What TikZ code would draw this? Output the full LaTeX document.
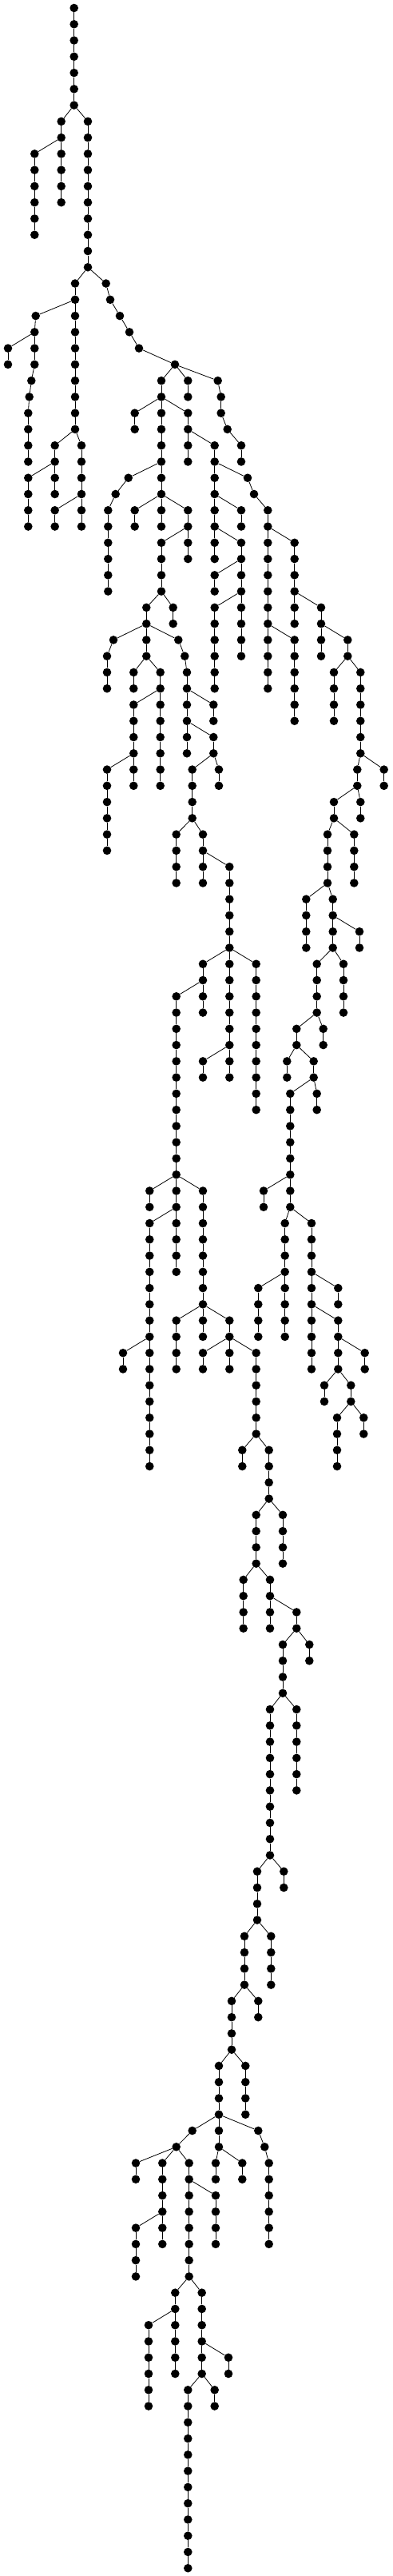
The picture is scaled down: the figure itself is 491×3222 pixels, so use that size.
\documentclass[tikz,border=0pt]{standalone}
\tikzset{dot/.style={circle,fill=black,draw=none,inner sep=0pt,minimum size=10.6pt},
  edge/.style={line width=0.8pt,black}}
\newcommand\ch[5]{%
  \foreach \l in {#4,...,#5}{\node[dot] (#1-\l) at (#3,{10+20.267*\l}) {};}%
  \draw[edge] (#2) -- (#1-#4);%
  \pgfmathtruncatemacro\chnext{#4+1}%
  \ifnum#5>#4\relax
    \foreach \l [evaluate=\l as \m using int(\l-1)] in {\chnext,...,#5}{\draw[edge] (#1-\m) -- (#1-\l);}%
  \fi}
\begin{document}
\begin{tikzpicture}[x=1pt,y=-1pt]
\useasboundingbox (0,0) rectangle (491,3222);
\node[dot] (A-0) at (92.7,10) {};
\ch{A}{A-0}{92.7}{1}{6}
\ch{B}{A-6}{76.7}{7}{8}
\ch{C}{B-8}{43.3}{9}{14}
\ch{D}{B-8}{76.7}{9}{12}
\ch{E}{A-6}{110}{7}{16}
\ch{F}{E-16}{94}{17}{18}
\ch{G1}{F-18}{44.7}{19}{19}
\ch{G2}{G1-19}{43.3}{20}{20}
\ch{H}{G2-20}{10}{21}{22}
\ch{I}{G2-20}{43.3}{21}{22}
\ch{I3}{I-22}{39.3}{23}{23}
\ch{I4}{I3-23}{36.7}{24}{24}
\ch{I5}{I4-24}{35.3}{25}{28}
\ch{J}{F-18}{94}{19}{26}
\ch{K}{J-26}{68.7}{27}{28}
\ch{L}{K-28}{35.3}{29}{32}
\ch{M}{K-28}{68.7}{29}{30}
\ch{N}{J-26}{102}{27}{30}
\ch{O}{N-30}{68.7}{31}{32}
\ch{P}{N-30}{102}{31}{32}
\ch{Q1}{E-16}{132.7}{17}{17}
\ch{Q2}{Q1-17}{138}{18}{18}
\ch{Q3}{Q2-18}{150}{19}{19}
\ch{Q4}{Q3-19}{162}{20}{20}
\ch{Q5}{Q4-20}{174}{21}{21}
\ch{Q6}{Q5-21}{219}{22}{22}
\ch{R}{Q6-22}{202}{23}{24}
\ch{S}{Q6-22}{235.3}{23}{24}
\ch{T1}{Q6-22}{272.7}{23}{23}
\ch{T2}{T1-23}{276.7}{24}{25}
\ch{T3}{T2-25}{284.7}{26}{26}
\ch{T4}{T3-26}{302}{27}{28}
\ch{U}{R-24}{168.7}{25}{26}
\ch{V}{R-24}{202}{25}{28}
\ch{W}{R-24}{235.3}{25}{26}
\ch{W1}{W-26}{235.3}{27}{28}
\ch{X}{W-26}{268.7}{27}{28}
\ch{Y1}{V-28}{160.7}{29}{29}
\ch{Y2}{Y1-29}{144.7}{30}{30}
\ch{Y3}{Y2-30}{135.3}{31}{36}
\ch{Z}{V-28}{202}{29}{30}
\ch{Z1}{Z-30}{168.7}{31}{32}
\ch{Z2}{Z-30}{202}{31}{32}
\ch{Z3}{Z-30}{235.3}{31}{32}
\ch{Z4}{Z3-32}{202}{33}{36}
\ch{Z5}{Z3-32}{235.3}{33}{34}
\ch{Z6}{Z4-36}{183.3}{37}{38}
\ch{Z7}{Z4-36}{216.7}{37}{38}
\ch{ma1}{Z6-38}{142}{39}{39}
\ch{ma2}{ma1-39}{134}{40}{42}
\ch{mb1}{Z6-38}{183.3}{39}{40}
\ch{mc1}{Z6-38}{223.3}{39}{39}
\ch{mc2}{mc1-39}{231.3}{40}{40}
\ch{mc3}{mc2-40}{234}{41}{42}
\ch{md}{mb1-40}{167.3}{41}{42}
\ch{me}{mb1-40}{200.7}{41}{42}
\ch{mf}{me-42}{167.3}{43}{46}
\ch{mg}{me-42}{200.7}{43}{48}
\ch{mh}{mf-46}{134}{47}{52}
\ch{mi}{mf-46}{167.3}{47}{48}
\ch{mj}{mc3-42}{234}{43}{44}
\ch{mk}{mc3-42}{267.3}{43}{44}
\ch{ml}{mj-44}{234}{45}{46}
\ch{mm}{mj-44}{267.3}{45}{46}
\ch{mn}{mm-46}{240.7}{47}{50}
\ch{mo}{mm-46}{274}{47}{48}
\ch{mp}{mn-50}{220.7}{51}{54}
\ch{mq}{mn-50}{254}{51}{52}
\ch{mr}{mq-52}{254}{53}{54}
\ch{ms}{mq-52}{287.3}{53}{58}
\ch{mt}{ms-58}{254}{59}{60}
\ch{mu}{ms-58}{287.3}{59}{64}
\ch{mv}{ms-58}{320.7}{59}{68}
\ch{mw}{mt-60}{220.7}{61}{72}
\ch{mx}{mt-60}{254}{61}{62}
\ch{my}{mu-64}{254}{65}{66}
\ch{mz}{mu-64}{287.3}{65}{66}
\ch{AA}{mw-72}{187.3}{73}{74}
\ch{AB}{mw-72}{220.7}{73}{74}
\ch{AC}{mw-72}{254}{73}{82}
\ch{AD}{AB-74}{187.3}{75}{90}
\ch{AE}{AB-74}{220.7}{75}{78}
\ch{AF}{AD-82}{154}{83}{84}
\ch{AG}{AC-80}{220.7}{81}{84}
\ch{AH}{AC-80}{287.3}{81}{82}
\ch{AI}{AH-82}{254}{83}{84}
\ch{AJ}{AH-82}{287.3}{83}{84}
\ch{AK}{AH-82}{320.7}{83}{88}
\ch{AL}{AK-88}{303.3}{89}{90}
\ch{AM}{AK-88}{336.7}{89}{92}
\ch{AO}{AM-92}{320.7}{93}{96}
\ch{AN}{AM-92}{354}{93}{96}
\ch{AP}{AO-96}{304.7}{97}{100}
\ch{AQ}{AO-96}{338}{97}{100}
\ch{AR}{AQ-98}{371.3}{99}{100}
\ch{AT}{AR-100}{354}{101}{104}
\ch{AS}{AR-100}{387.3}{101}{102}
\ch{AU}{AT-104}{338}{105}{114}
\ch{AV}{AT-104}{371.3}{105}{110}
\ch{AX}{AU-114}{322}{115}{118}
\ch{AW}{AU-114}{355.3}{115}{116}
\ch{AY}{AX-118}{306}{119}{122}
\ch{AZ}{AX-118}{339.3}{119}{122}
\ch{BB}{AY-122}{290}{123}{126}
\ch{BA}{AY-122}{323.3}{123}{124}
\ch{BD}{BB-126}{274}{127}{130}
\ch{BC}{BB-126}{307.3}{127}{130}
\ch{BE1}{BD-130}{240.7}{131}{131}
\ch{BE2}{BE1-131}{220.7}{132}{132}
\ch{BF}{BD-130}{274}{131}{132}
\ch{BG1}{BD-130}{323.3}{131}{131}
\ch{BG2}{BG1-131}{331.3}{132}{132}
\ch{BG3}{BG2-132}{336.7}{133}{138}
\ch{BH}{BE2-132}{170}{133}{134}
\ch{BI}{BE2-132}{203.3}{133}{138}
\ch{BK}{BE2-132}{236.7}{133}{140}
\ch{BJ}{BI-136}{170}{137}{140}
\ch{BL}{BK-134}{270}{135}{138}
\ch{BM}{BK-140}{219.3}{141}{142}
\ch{BP}{BK-140}{252.7}{141}{146}
\ch{BN}{BM-142}{186}{143}{148}
\ch{BO}{BM-142}{219.3}{143}{146}
\ch{BQ}{BP-144}{286}{145}{146}
\ch{BT}{BP-146}{235.3}{147}{158}
\ch{BU}{BP-146}{268.7}{147}{148}
\ch{BR}{BF-132}{270}{133}{134}
\ch{BS}{BF-132}{303.3}{133}{134}
\ch{X1}{X-28}{268.7}{29}{30}
\ch{RA1}{X-28}{310}{29}{29}
\ch{RA2}{RA1-29}{318}{30}{30}
\ch{RA3}{RA2-30}{335.3}{31}{32}
\ch{X2}{X1-30}{268.7}{31}{32}
\ch{X3}{X1-30}{302}{31}{32}
\ch{X4}{X2-32}{268.7}{33}{34}
\ch{X5}{X2-32}{302}{33}{34}
\ch{X6}{X5-34}{268.7}{35}{36}
\ch{X7}{X5-34}{302}{35}{36}
\ch{X8}{X7-36}{268.7}{37}{42}
\ch{X9}{X7-36}{302}{37}{40}
\ch{RB}{RA3-32}{335.3}{33}{38}
\ch{RC}{RA3-32}{368.7}{33}{36}
\ch{RD}{RB-38}{335.3}{39}{42}
\ch{RE}{RB-38}{368.7}{39}{44}
\ch{RF}{RC-36}{368.7}{37}{38}
\ch{RG}{RC-36}{402}{37}{38}
\ch{RH}{RG-38}{402}{39}{40}
\ch{RI}{RG-38}{435.3}{39}{40}
\ch{RJ}{RI-40}{418}{41}{44}
\ch{RK}{RI-40}{451.3}{41}{46}
\ch{RL}{RK-46}{447.3}{47}{48}
\ch{RM}{RK-46}{480.7}{47}{48}
\ch{RN}{RL-48}{418}{49}{50}
\ch{RO}{RL-48}{451.3}{49}{50}
\ch{RP}{RN-50}{410}{51}{54}
\ch{RQ}{RN-50}{443.3}{51}{54}
\ch{RR}{RP-54}{383.3}{55}{58}
\ch{RS}{RP-54}{416.7}{55}{56}
\ch{RT}{RS-56}{416.7}{57}{58}
\ch{RU}{RS-56}{450}{57}{58}
\ch{RV}{RT-58}{396.7}{59}{62}
\ch{RW}{RT-58}{430}{59}{62}
\ch{RX}{RV-62}{371.3}{63}{64}
\ch{RY}{RV-62}{404.7}{63}{64}
\ch{RZ}{RX-64}{359.3}{65}{66}
\ch{SA}{RX-64}{392.7}{65}{66}
\ch{SB}{SA-66}{363.3}{67}{74}
\ch{SC}{SA-66}{396.7}{67}{68}
\ch{SD}{SB-72}{330}{73}{74}
\ch{SE}{SB-74}{356.7}{75}{78}
\ch{SF}{SB-74}{390}{75}{78}
\ch{SG}{SE-78}{323.3}{79}{82}
\ch{SH}{SE-78}{356.7}{79}{82}
\ch{SI}{SF-78}{390}{79}{84}
\ch{SJ}{SF-78}{423.3}{79}{80}
\ch{SK}{SI-80}{423.3}{81}{84}
\ch{SL}{SK-82}{456.7}{83}{84}
\ch{SM}{SK-84}{406}{85}{86}
\ch{SN}{SK-84}{439.3}{85}{86}
\ch{SO}{SN-86}{422}{87}{90}
\ch{SP}{SN-86}{455.3}{87}{88}
\end{tikzpicture}
\end{document}
